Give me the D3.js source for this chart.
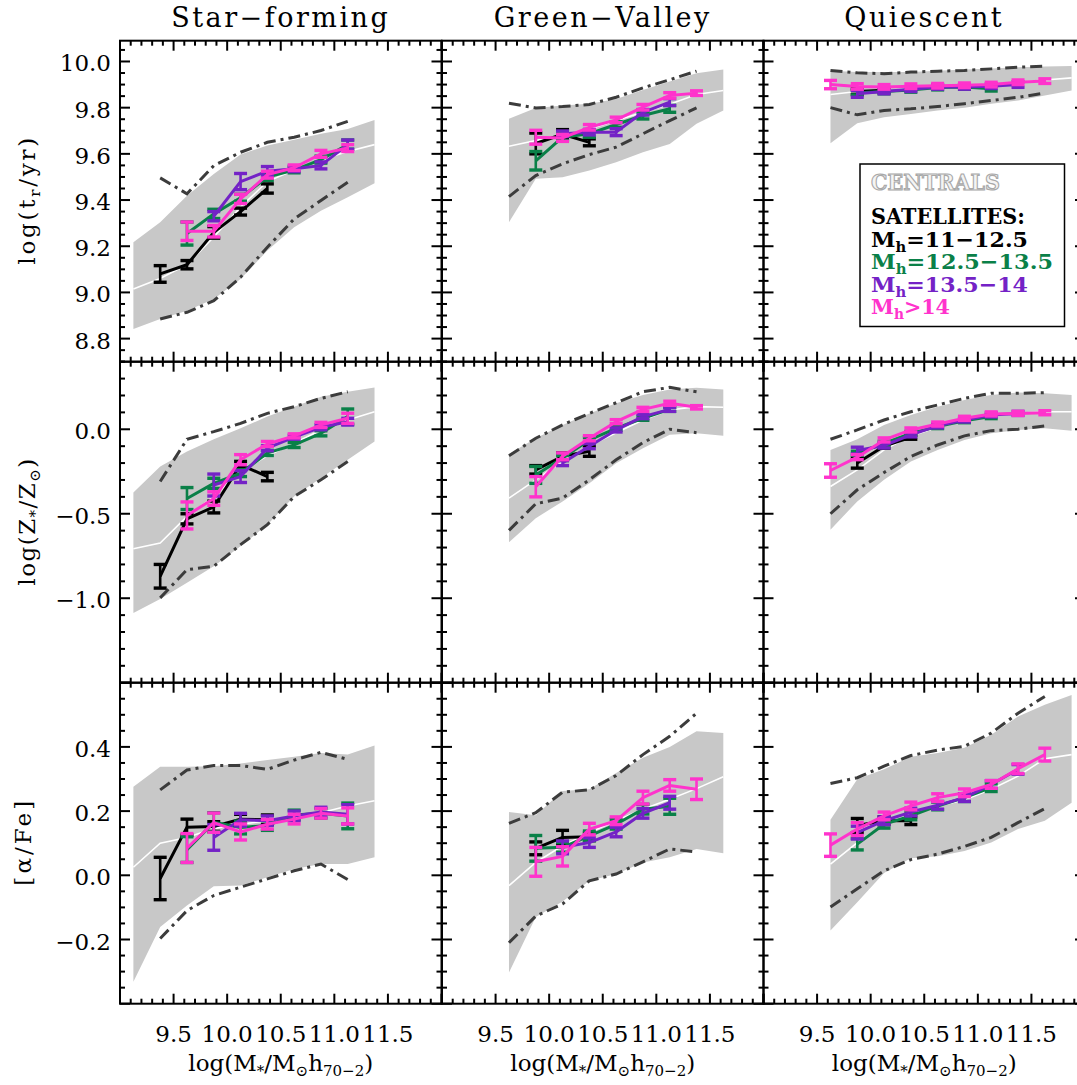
<!DOCTYPE html>
<html><head><meta charset="utf-8">
<script src="https://cdn.jsdelivr.net/npm/d3@7"></script>
<style>body{margin:0;background:#fff}svg{display:block}</style>
</head><body>
<svg id="c" width="1077" height="1085"></svg>
<script>
const _ = null;
// stellar-mass bin centres, log(M*/Msun h70^-2)
const massBins = [9.125, 9.375, 9.625, 9.875, 10.125, 10.375, 10.625, 10.875, 11.125, 11.375, 11.625, 11.875];

// ---------- Row 1: log(t_r/yr) ----------
// Star-forming
const sfAgeHi   = [9.217, 9.304, 9.419, 9.513, 9.597, 9.636, 9.661, 9.687, 9.708, 9.747, _, _];
const sfAgeLo   = [8.842, 8.885, 8.921, 8.972, 9.058, 9.181, 9.282, 9.354, 9.412, 9.473, _, _];
const sfAgeMed  = [9.015, 9.06, 9.12, 9.24, 9.37, 9.48, 9.53, 9.575, 9.61, 9.64, _, _];
const sfAgeDdHi = [_, 9.496, 9.427, 9.549, 9.607, 9.65, 9.672, 9.701, 9.741, _, _, _];
const sfAgeDdLo = [_, 8.885, 8.914, 8.964, 9.066, 9.196, 9.318, 9.398, 9.477, _, _, _];
const sfAgeBlk    = [_, 9.08, 9.12, 9.26, 9.35, 9.45, _, _, _, _, _, _];
const sfAgeBlkErr = [_, 0.036, 0.018, 0.025, 0.015, 0.02, _, _, _, _, _, _];
const sfAgeGrn    = [_, _, 9.255, 9.34, 9.41, 9.50, 9.53, 9.575, 9.64, _, _, _];
const sfAgeGrnErr = [_, _, 0.05, 0.02, 0.015, 0.015, 0.012, 0.015, 0.02, _, _, _];
const sfAgePur    = [_, _, _, 9.33, 9.48, 9.525, 9.535, 9.55, 9.64, _, _, _];
const sfAgePurErr = [_, _, _, 0.02, 0.035, 0.02, 0.012, 0.015, 0.02, _, _, _];
const sfAgeMag    = [_, _, 9.265, 9.265, 9.405, 9.51, 9.54, 9.60, 9.625, _, _, _];
const sfAgeMagErr = [_, _, 0.04, 0.025, 0.02, 0.015, 0.012, 0.015, 0.015, _, _, _];
// Green-Valley
const gvAgeHi   = [_, _, 9.752, 9.799, 9.809, 9.817, 9.838, 9.877, 9.913, 9.949, 9.965, _];
const gvAgeLo   = [_, _, 9.304, 9.492, 9.499, 9.528, 9.564, 9.607, 9.643, 9.73, 9.788, _];
const gvAgeMed  = [_, _, 9.633, 9.658, 9.679, 9.708, 9.744, 9.78, 9.815, 9.857, 9.874, _];
const gvAgeDdHi = [_, _, 9.819, 9.799, 9.805, 9.814, 9.845, 9.886, 9.921, 9.958, _, _];
const gvAgeDdLo = [_, _, 9.415, 9.506, 9.557, 9.597, 9.629, 9.687, 9.744, 9.799, _, _];
const gvAgeBlk    = [_, _, _, 9.645, 9.685, 9.65, _, _, _, _, _, _];
const gvAgeBlkErr = [_, _, _, 0.045, 0.02, 0.015, _, _, _, _, _, _];
const gvAgeGrn    = [_, _, _, 9.57, 9.672, 9.687, 9.727, 9.766, 9.795, _, _, _];
const gvAgeGrnErr = [_, _, _, 0.04, 0.015, 0.015, 0.012, 0.015, 0.015, _, _, _];
const gvAgePur    = [_, _, _, _, 9.687, 9.694, 9.694, 9.78, 9.824, _, _, _];
const gvAgePurErr = [_, _, _, _, 0.012, 0.012, 0.015, 0.012, 0.015, _, _, _];
const gvAgeMag    = [_, _, _, 9.672, 9.669, 9.715, 9.747, 9.802, 9.853, 9.863, _, _];
const gvAgeMagErr = [_, _, _, 0.03, 0.015, 0.012, 0.012, 0.012, 0.012, 0.01, _, _];
// Quiescent
const qAgeHi   = [_, _, 9.96, 9.955, 9.955, 9.955, 9.96, 9.965, 9.97, 9.975, 9.978, 9.98];
const qAgeLo   = [_, _, 9.646, 9.733, 9.759, 9.773, 9.788, 9.80, 9.817, 9.831, 9.853, 9.874];
const qAgeMed  = [_, _, 9.857, 9.87, 9.875, 9.88, 9.89, 9.895, 9.90, 9.91, 9.92, 9.929];
const qAgeDdHi = [_, _, 9.961, 9.951, 9.947, 9.954, 9.958, 9.961, 9.968, 9.975, 9.98, _];
const qAgeDdLo = [_, _, 9.80, 9.769, 9.788, 9.795, 9.805, 9.817, 9.831, 9.845, 9.863, _];
const qAgeBlk    = [_, _, _, 9.87, 9.875, _, _, _, _, _, _, _];
const qAgeBlkErr = [_, _, _, 0.012, 0.01, _, _, _, _, _, _, _];
const qAgeGrn    = [_, _, _, 9.865, 9.87, 9.877, 9.887, 9.89, 9.882, _, _, _];
const qAgeGrnErr = [_, _, _, 0.01, 0.01, 0.01, 0.01, 0.01, 0.01, _, _, _];
const qAgePur    = [_, _, _, 9.86, 9.87, 9.88, 9.89, 9.89, 9.893, 9.90, _, _];
const qAgePurErr = [_, _, _, 0.015, 0.01, 0.01, 0.01, 0.01, 0.01, 0.012, _, _];
const qAgeMag    = [_, _, 9.90, 9.892, 9.89, 9.893, 9.895, 9.897, 9.90, 9.91, 9.915, _];
const qAgeMagErr = [_, _, 0.018, 0.012, 0.01, 0.01, 0.01, 0.01, 0.01, 0.01, 0.01, _];

// ---------- Row 2: log(Z*/Zsun) ----------
const sfZHi   = [-0.374, -0.22, -0.132, -0.059, 0.006, 0.075, 0.134, 0.193, 0.222, 0.248, _, _];
const sfZLo   = [-1.087, -1.004, -0.909, -0.811, -0.693, -0.565, -0.398, -0.289, -0.181, -0.073, _, _];
const sfZMed  = [-0.707, -0.673, -0.516, -0.398, -0.25, -0.157, -0.083, -0.004, 0.055, 0.104, _, _];
const sfZDdHi = [_, -0.309, -0.059, -0.014, 0.035, 0.094, 0.134, 0.183, 0.222, _, _, _];
const sfZDdLo = [_, -0.998, -0.831, -0.811, -0.683, -0.565, -0.398, -0.299, -0.191, _, _, _];
const sfZBlk    = [_, -0.87, -0.53, -0.46, -0.21, -0.28, _, _, _, _, _, _];
const sfZBlkErr = [_, 0.07, 0.03, 0.035, 0.02, 0.025, _, _, _, _, _, _];
const sfZGrn    = [_, _, -0.41, -0.32, -0.26, -0.14, -0.093, -0.024, 0.075, _, _, _];
const sfZGrnErr = [_, _, 0.065, 0.03, 0.02, 0.015, 0.015, 0.015, 0.045, _, _, _];
const sfZPur    = [_, _, _, -0.33, -0.28, -0.112, -0.047, 0.012, 0.045, _, _, _];
const sfZPurErr = [_, _, _, 0.065, 0.035, 0.015, 0.012, 0.015, 0.02, _, _, _];
const sfZMag    = [_, _, -0.51, -0.41, -0.18, -0.087, -0.039, 0.026, 0.065, _, _, _];
const sfZMagErr = [_, _, 0.08, 0.04, 0.03, 0.015, 0.012, 0.015, 0.03, _, _, _];

const gvZHi   = [_, _, -0.146, -0.053, 0.026, 0.094, 0.154, 0.203, 0.236, 0.246, 0.236, _];
const gvZLo   = [_, _, -0.669, -0.526, -0.427, -0.319, -0.201, -0.112, -0.033, -0.024, -0.039, _];
const gvZMed  = [_, _, -0.407, -0.299, -0.191, -0.098, -0.02, 0.055, 0.114, 0.134, 0.13, _];
const gvZDdHi = [_, _, -0.157, -0.053, 0.026, 0.094, 0.157, 0.222, 0.248, 0.222, _, _];
const gvZDdLo = [_, _, -0.598, -0.441, -0.407, -0.299, -0.181, -0.079, 0.0, -0.02, _, _];
const gvZBlk    = [_, _, _, -0.24, -0.16, -0.13, _, _, _, _, _, _];
const gvZBlkErr = [_, _, _, 0.025, 0.02, 0.03, _, _, _, _, _, _];
const gvZGrn    = [_, _, _, -0.27, -0.17, -0.063, 0.006, 0.065, 0.118, _, _, _];
const gvZGrnErr = [_, _, _, 0.05, 0.015, 0.015, 0.012, 0.012, 0.012, _, _, _];
const gvZPur    = [_, _, _, _, -0.20, -0.10, -0.004, 0.075, 0.118, _, _, _];
const gvZPurErr = [_, _, _, _, 0.015, 0.015, 0.012, 0.012, 0.012, _, _, _];
const gvZMag    = [_, _, _, -0.34, -0.16, -0.053, 0.045, 0.118, 0.154, 0.13, _, _];
const gvZMagErr = [_, _, _, 0.06, 0.02, 0.015, 0.012, 0.012, 0.012, 0.01, _, _];

const qZHi   = [_, _, -0.122, -0.059, 0.026, 0.085, 0.134, 0.173, 0.203, 0.217, 0.213, 0.203];
const qZLo   = [_, _, -0.594, -0.427, -0.299, -0.191, -0.122, -0.063, -0.024, -0.004, 0.006, -0.008];
const qZMed  = [_, _, -0.339, -0.24, -0.122, -0.039, 0.012, 0.051, 0.079, 0.094, 0.104, 0.104];
const qZDdHi = [_, _, -0.059, -0.004, 0.055, 0.104, 0.144, 0.183, 0.213, 0.213, 0.217, _];
const qZDdLo = [_, _, -0.5, -0.358, -0.256, -0.161, -0.093, -0.039, -0.008, 0.0, 0.02, _];
const qZBlk    = [_, _, _, -0.2, -0.10, -0.047, _, _, _, _, _, _];
const qZBlkErr = [_, _, _, 0.03, 0.012, 0.012, _, _, _, _, _, _];
const qZGrn    = [_, _, _, -0.142, -0.083, -0.024, 0.016, 0.051, 0.075, _, _, _];
const qZGrnErr = [_, _, _, 0.012, 0.012, 0.012, 0.012, 0.012, 0.012, _, _, _];
const qZPur    = [_, _, _, -0.126, -0.096, -0.033, 0.02, 0.055, 0.085, 0.094, _, _];
const qZPurErr = [_, _, _, 0.02, 0.015, 0.012, 0.012, 0.012, 0.012, 0.012, _, _];
const qZMag    = [_, _, -0.244, -0.165, -0.063, -0.004, 0.031, 0.065, 0.091, 0.094, 0.098, _];
const qZMagErr = [_, _, 0.04, 0.015, 0.012, 0.012, 0.012, 0.012, 0.012, 0.012, 0.012, _];

// ---------- Row 3: [alpha/Fe] ----------
const sfAHi   = [0.276, 0.338, 0.338, 0.34, 0.348, 0.359, 0.369, 0.381, 0.376, 0.404, _, _];
const sfALo   = [-0.332, -0.161, -0.094, -0.034, -0.032, -0.006, 0.02, 0.035, 0.035, 0.056, _, _];
const sfAMed  = [0.025, 0.1, 0.118, 0.146, 0.159, 0.17, 0.18, 0.195, 0.216, 0.232, _, _];
const sfADdHi = [_, 0.266, 0.328, 0.342, 0.342, 0.33, 0.359, 0.383, 0.361, _, _, _];
const sfADdLo = [_, -0.197, -0.11, -0.063, -0.037, -0.011, 0.014, 0.035, -0.013, _, _, _];
const sfABlk    = [_, -0.01, 0.15, 0.152, 0.175, 0.173, _, _, _, _, _, _];
const sfABlkErr = [_, 0.066, 0.025, 0.015, 0.015, 0.015, _, _, _, _, _, _];
const sfAGrn    = [_, _, 0.08, 0.165, 0.149, 0.155, 0.188, 0.193, 0.185, _, _, _];
const sfAGrnErr = [_, _, 0.04, 0.03, 0.02, 0.015, 0.015, 0.015, 0.04, _, _, _];
const sfAPur    = [_, _, _, 0.118, 0.173, 0.17, 0.185, 0.197, 0.19, _, _, _];
const sfAPurErr = [_, _, _, 0.04, 0.02, 0.015, 0.015, 0.015, 0.03, _, _, _];
const sfAMag    = [_, _, 0.085, 0.164, 0.135, 0.159, 0.175, 0.193, 0.185, _, _, _];
const sfAMagErr = [_, _, 0.045, 0.03, 0.025, 0.015, 0.015, 0.015, 0.025, _, _, _];

const gvAHi   = [_, _, 0.197, 0.187, 0.263, 0.268, 0.319, 0.366, 0.40, 0.449, 0.443, _];
const gvALo   = [_, _, -0.303, -0.13, -0.082, -0.017, 0.004, 0.04, 0.056, 0.082, 0.069, _];
const gvAMed  = [_, _, -0.032, 0.04, 0.092, 0.133, 0.17, 0.206, 0.237, 0.27, 0.307, _];
const gvADdHi = [_, _, 0.162, 0.195, 0.259, 0.266, 0.311, 0.376, 0.433, 0.505, _, _];
const gvADdLo = [_, _, -0.21, -0.127, -0.089, -0.017, 0.004, 0.042, 0.082, 0.073, _, _];
const gvABlk    = [_, _, _, 0.084, 0.118, 0.12, _, _, _, _, _, _];
const gvABlkErr = [_, _, _, 0.02, 0.022, 0.012, _, _, _, _, _, _];
const gvAGrn    = [_, _, _, 0.084, 0.087, 0.123, 0.159, 0.206, 0.215, _, _, _];
const gvAGrnErr = [_, _, _, 0.04, 0.015, 0.015, 0.015, 0.015, 0.025, _, _, _];
const gvAPur    = [_, _, _, _, 0.087, 0.102, 0.135, 0.193, 0.226, _, _, _];
const gvAPurErr = [_, _, _, _, 0.02, 0.015, 0.015, 0.015, 0.02, _, _, _];
const gvAMag    = [_, _, _, 0.042, 0.059, 0.144, 0.17, 0.242, 0.28, 0.268, _, _];
const gvAMagErr = [_, _, _, 0.045, 0.03, 0.018, 0.012, 0.02, 0.018, 0.032, _, _];

const qAHi   = [_, _, 0.173, 0.299, 0.33, 0.369, 0.381, 0.397, 0.438, 0.495, 0.531, 0.562];
const qALo   = [_, _, -0.172, -0.084, 0.007, 0.053, 0.059, 0.076, 0.102, 0.144, 0.17, 0.226];
const qAMed  = [_, _, 0.035, 0.102, 0.159, 0.19, 0.216, 0.235, 0.268, 0.309, 0.363, 0.376];
const qADdHi = [_, _, 0.286, 0.304, 0.34, 0.373, 0.39, 0.402, 0.443, 0.505, 0.557, _];
const qADdLo = [_, _, -0.099, -0.042, 0.014, 0.049, 0.066, 0.09, 0.118, 0.164, 0.208, _];
const qABlk    = [_, _, _, 0.155, 0.17, 0.17, _, _, _, _, _, _];
const qABlkErr = [_, _, _, 0.022, 0.012, 0.012, _, _, _, _, _, _];
const qAGrn    = [_, _, _, 0.097, 0.159, 0.185, 0.216, 0.242, 0.273, _, _, _];
const qAGrnErr = [_, _, _, 0.018, 0.012, 0.012, 0.012, 0.012, 0.012, _, _, _];
const qAPur    = [_, _, _, 0.133, 0.17, 0.197, 0.218, 0.242, 0.283, 0.33, _, _];
const qAPurErr = [_, _, _, 0.02, 0.012, 0.012, 0.012, 0.012, 0.012, 0.015, _, _];
const qAMag    = [_, _, 0.094, 0.144, 0.185, 0.216, 0.242, 0.257, 0.283, 0.332, 0.376, _];
const qAMagErr = [_, _, 0.035, 0.02, 0.012, 0.012, 0.012, 0.012, 0.012, 0.015, 0.02, _];

// ---------- labels / ticks ----------
const columnTitles = ["Star\u2212forming", "Green\u2212Valley", "Quiescent"];
const xTickVals = [9.5, 10.0, 10.5, 11.0, 11.5];
const xTickLabels = ["9.5", "10.0", "10.5", "11.0", "11.5"];
const yTickVals = [[8.8, 9.0, 9.2, 9.4, 9.6, 9.8, 10.0], [-1.0, -0.5, 0.0], [-0.2, 0.0, 0.2, 0.4]];
const yTickLabels = [["8.8", "9.0", "9.2", "9.4", "9.6", "9.8", "10.0"], ["\u22121.0", "\u22120.5", "0.0"], ["\u22120.2", "0.0", "0.2", "0.4"]];
const yDomains = [[8.7, 10.09], [-1.5, 0.4], [-0.4, 0.6]];
const xDomain = [9, 12];
const seriesColors = ["#000000", "#0a8048", "#7422c6", "#ff33cc"];
const legendLabels = ["=11\u221212.5", "=12.5\u221213.5", "=13.5\u221214", ">14"];

// ---------- layout ----------
const colX = [120, 442, 763.5], PW = 321.5;
const rowY = [40.7, 361.7, 682.7], PH = 321;
const FONT = "'DejaVu Serif', serif";

const panels = [
  [0, 0, sfAgeHi, sfAgeLo, sfAgeMed, sfAgeDdHi, sfAgeDdLo, [[sfAgeBlk, sfAgeBlkErr], [sfAgeGrn, sfAgeGrnErr], [sfAgePur, sfAgePurErr], [sfAgeMag, sfAgeMagErr]]],
  [0, 1, gvAgeHi, gvAgeLo, gvAgeMed, gvAgeDdHi, gvAgeDdLo, [[gvAgeBlk, gvAgeBlkErr], [gvAgeGrn, gvAgeGrnErr], [gvAgePur, gvAgePurErr], [gvAgeMag, gvAgeMagErr]]],
  [0, 2, qAgeHi, qAgeLo, qAgeMed, qAgeDdHi, qAgeDdLo, [[qAgeBlk, qAgeBlkErr], [qAgeGrn, qAgeGrnErr], [qAgePur, qAgePurErr], [qAgeMag, qAgeMagErr]]],
  [1, 0, sfZHi, sfZLo, sfZMed, sfZDdHi, sfZDdLo, [[sfZBlk, sfZBlkErr], [sfZGrn, sfZGrnErr], [sfZPur, sfZPurErr], [sfZMag, sfZMagErr]]],
  [1, 1, gvZHi, gvZLo, gvZMed, gvZDdHi, gvZDdLo, [[gvZBlk, gvZBlkErr], [gvZGrn, gvZGrnErr], [gvZPur, gvZPurErr], [gvZMag, gvZMagErr]]],
  [1, 2, qZHi, qZLo, qZMed, qZDdHi, qZDdLo, [[qZBlk, qZBlkErr], [qZGrn, qZGrnErr], [qZPur, qZPurErr], [qZMag, qZMagErr]]],
  [2, 0, sfAHi, sfALo, sfAMed, sfADdHi, sfADdLo, [[sfABlk, sfABlkErr], [sfAGrn, sfAGrnErr], [sfAPur, sfAPurErr], [sfAMag, sfAMagErr]]],
  [2, 1, gvAHi, gvALo, gvAMed, gvADdHi, gvADdLo, [[gvABlk, gvABlkErr], [gvAGrn, gvAGrnErr], [gvAPur, gvAPurErr], [gvAMag, gvAMagErr]]],
  [2, 2, qAHi, qALo, qAMed, qADdHi, qADdLo, [[qABlk, qABlkErr], [qAGrn, qAGrnErr], [qAPur, qAPurErr], [qAMag, qAMagErr]]]
];

const svg = d3.select("#c");
svg.append("rect").attr("width", 1077).attr("height", 1085).attr("fill", "#fff");

const minorX = d3.range(90, 121).map(v => v / 10);
const minorY = [d3.range(174, 202).map(v => v / 20), d3.range(-15, 5).map(v => v / 10), d3.range(-8, 13).map(v => v / 20)];
const isMajorY = [v => Math.abs(v * 5 - Math.round(v * 5)) < 1e-6, v => Math.abs(v * 2 - Math.round(v * 2)) < 1e-6, v => Math.abs(v * 5 - Math.round(v * 5)) < 1e-6];

panels.forEach(([r, c, hi, lo, med, ddHi, ddLo, series]) => {
  const x = d3.scaleLinear().domain(xDomain).range([colX[c], colX[c] + PW]);
  const y = d3.scaleLinear().domain(yDomains[r]).range([rowY[r] + PH, rowY[r]]);
  const g = svg.append("g");
  const rows = massBins.map((m, i) => ({m, i}));

  // centrals band
  g.append("path").datum(rows)
    .attr("fill", "#c8c8c8")
    .attr("d", d3.area().defined(d => hi[d.i] != null && lo[d.i] != null)
      .x(d => x(d.m)).y0(d => y(lo[d.i])).y1(d => y(hi[d.i]))(rows));
  // centrals median
  const lineOf = arr => d3.line().defined(d => arr[d.i] != null).x(d => x(d.m)).y(d => y(arr[d.i]));
  g.append("path").attr("d", lineOf(med)(rows)).attr("fill", "none").attr("stroke", "#fff").attr("stroke-width", 1.6);
  // satellite percentiles (dash-dot)
  [ddHi, ddLo].forEach(arr => {
    g.append("path").attr("d", lineOf(arr)(rows)).attr("fill", "none")
      .attr("stroke", "#3c3c3c").attr("stroke-width", 3).attr("stroke-dasharray", "12,5,3,5");
  });
  // satellite series
  series.forEach(([vals, errs], k) => {
    const col = seriesColors[k];
    g.append("path").attr("d", lineOf(vals)(rows)).attr("fill", "none")
      .attr("stroke", col).attr("stroke-width", 3).attr("stroke-linejoin", "round");
    rows.filter(d => vals[d.i] != null).forEach(d => {
      const xc = x(d.m), e = errs[d.i] || 0;
      const y1 = y(vals[d.i] + e), y2 = y(vals[d.i] - e);
      g.append("line").attr("x1", xc).attr("x2", xc).attr("y1", y1).attr("y2", y2)
        .attr("stroke", col).attr("stroke-width", 2.6);
      [y1, y2].forEach(yy => g.append("line").attr("x1", xc - 6.5).attr("x2", xc + 6.5)
        .attr("y1", yy).attr("y2", yy).attr("stroke", col).attr("stroke-width", 3.4));
    });
  });

  // frame and ticks
  const x0 = colX[c], x1 = colX[c] + PW, y0 = rowY[r], y1 = rowY[r] + PH;
  const tk = svg.append("g").attr("stroke", "#000").attr("stroke-width", 2);
  minorX.forEach(v => {
    const L = Math.abs(v * 2 - Math.round(v * 2)) < 1e-6 ? 10 : 5;
    const xx = x(v);
    tk.append("line").attr("x1", xx).attr("x2", xx).attr("y1", y1).attr("y2", y1 - L);
    tk.append("line").attr("x1", xx).attr("x2", xx).attr("y1", y0).attr("y2", y0 + L);
  });
  minorY[r].forEach(v => {
    const L = isMajorY[r](v) ? 10 : 5;
    const yy = y(v);
    tk.append("line").attr("x1", x0).attr("x2", x0 + L).attr("y1", yy).attr("y2", yy);
    tk.append("line").attr("x1", x1).attr("x2", x1 - L).attr("y1", yy).attr("y2", yy);
  });
  tk.append("rect").attr("x", x0).attr("y", y0).attr("width", PW).attr("height", PH).attr("fill", "none");

  // tick labels
  if (c === 0) {
    yTickVals[r].forEach((v, i) => {
      svg.append("text").attr("x", 111).attr("y", y(v) + 10).attr("text-anchor", "end")
        .attr("font-family", FONT).attr("font-size", 23).attr("fill", "#000").text(yTickLabels[r][i]);
    });
  }
  if (r === 2) {
    xTickVals.forEach((v, i) => {
      svg.append("text").attr("x", x(v)).attr("y", 1041.5).attr("text-anchor", "middle")
        .attr("font-family", FONT).attr("font-size", 23).attr("fill", "#000").text(xTickLabels[i]);
    });
    // x-axis title
    const t = svg.append("text").attr("x", x0 + PW / 2).attr("y", 1071).attr("text-anchor", "middle")
      .attr("font-family", FONT).attr("font-size", 23).attr("fill", "#000");
    t.append("tspan").text("log(M");
    t.append("tspan").attr("font-size", 15).attr("dy", 5).text("*");
    t.append("tspan").attr("dy", -5).text("/M");
    t.append("tspan").attr("font-size", 15).attr("dy", 5).text("\u2299");
    t.append("tspan").attr("dy", -5).text("h");
    t.append("tspan").attr("font-size", 15).attr("dy", 5).text("70\u22122");
    t.append("tspan").attr("dy", -5).text(")");
  }
  if (r === 0) {
    svg.append("text").attr("x", x0 + PW / 2).attr("y", 27).attr("text-anchor", "middle")
      .attr("font-family", FONT).attr("font-size", 27).attr("fill", "#000")
      .attr("letter-spacing", 2.5).text(columnTitles[c]);
  }
});

// y-axis titles
function yTitle(cy, bx, parts, len) {
  const t = svg.append("text").attr("transform", `translate(${bx},${cy}) rotate(-90)`)
    .attr("text-anchor", "middle").attr("font-family", FONT).attr("font-size", 23).attr("fill", "#000");
  parts.forEach(([s, sub]) => {
    if (sub) t.append("tspan").attr("font-size", 15).attr("dy", 5).text(s);
    else t.append("tspan").attr("dy", sub === false ? -5 : 0).text(s);
  });
  if (len) t.attr("textLength", len).attr("lengthAdjust", "spacing");
}
yTitle(rowY[0] + PH / 2, 35, [["log(t", null], ["r", true], ["/yr)", false]], 127);
yTitle(rowY[1] + PH / 2, 35, [["log(Z", null], ["*", true], ["/Z", false], ["\u2299", true], [")", false]], 127);
yTitle(rowY[2] + PH / 2, 31, [["[\u03b1/Fe]", null]], 85);

// legend
const lg = svg.append("g");
lg.append("rect").attr("x", 860).attr("y", 164).attr("width", 204.5).attr("height", 162.5)
  .attr("fill", "#fff").attr("stroke", "#000").attr("stroke-width", 1.5);
const LF = "'DejaVu Serif', serif";
lg.append("text").attr("x", 871).attr("y", 189.5).attr("font-family", LF).attr("font-weight", "bold")
  .attr("font-size", 23).attr("fill", "#f4f4f4").attr("stroke", "#a8a8a8").attr("stroke-width", 1.2)
  .attr("textLength", 129).attr("lengthAdjust", "spacingAndGlyphs").text("CENTRALS");
lg.append("text").attr("x", 871).attr("y", 224).attr("font-family", LF).attr("font-weight", "bold")
  .attr("font-size", 23).attr("fill", "#000")
  .attr("textLength", 154).attr("lengthAdjust", "spacingAndGlyphs").text("SATELLITES:");
const legendEnds = [1028, 1053, 1028, 950];
legendLabels.forEach((lab, k) => {
  const by = 246.7 + k * 22.4;
  const col = seriesColors[k];
  const t = lg.append("text").attr("x", 871).attr("y", by).attr("font-family", LF).attr("font-weight", "bold")
    .attr("font-size", 21).attr("fill", col).attr("textLength", legendEnds[k] - 871)
    .attr("lengthAdjust", "spacingAndGlyphs");
  t.append("tspan").text("M");
  t.append("tspan").attr("font-size", 14).attr("dy", 5).text("h");
  t.append("tspan").attr("dy", -5).text(lab);
});
</script>
</body></html>
